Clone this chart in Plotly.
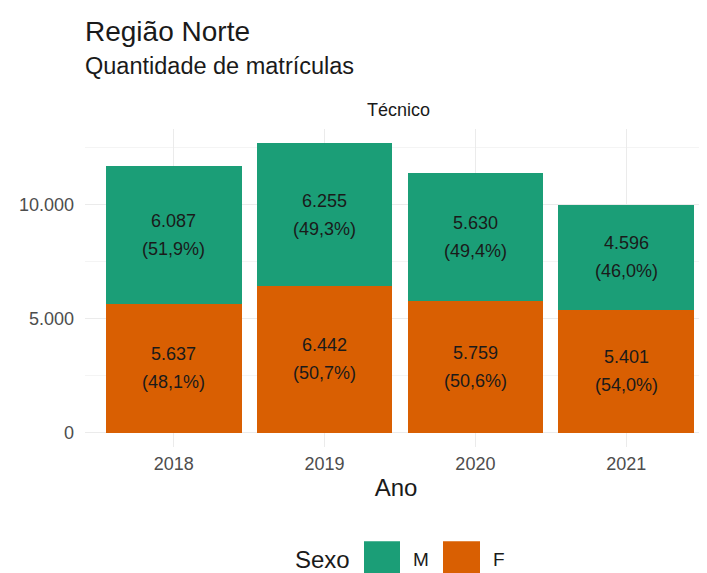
import plotly.graph_objects as go

anos = ["2018", "2019", "2020", "2021"]
masc = [6087, 6255, 5630, 4596]
fem = [5637, 6442, 5759, 5401]
masc_pct = ["51,9%", "49,3%", "49,4%", "46,0%"]
fem_pct = ["48,1%", "50,7%", "50,6%", "54,0%"]

COL_M = "#1B9E77"
COL_F = "#D95F02"
FONT = "Liberation Sans, Arial, sans-serif"
TXT = "#1a1a1a"
AXT = "#4D4D4D"


def fmt(v):
    return f"{v:,}".replace(",", ".")


fig = go.Figure()
fig.add_trace(go.Bar(x=anos, y=fem, name="F", showlegend=False,
                     marker=dict(color=COL_F, line=dict(width=0))))
fig.add_trace(go.Bar(x=anos, y=masc, name="M", showlegend=False,
                     marker=dict(color=COL_M, line=dict(width=0))))

annotations = []
# value labels centred in each stacked segment (two lines); x = category index
for i, (f, m, fp, mp) in enumerate(zip(fem, masc, fem_pct, masc_pct)):
    for val, pct, mid in ((f, fp, f / 2), (m, mp, f + m / 2)):
        annotations.append(dict(x=i, y=mid, xref="x", yref="y", text=fmt(val),
                                showarrow=False, yshift=14,
                                font=dict(size=18, color=TXT)))
        annotations.append(dict(x=i, y=mid, xref="x", yref="y", text=f"({pct})",
                                showarrow=False, yshift=-14,
                                font=dict(size=18, color=TXT)))

# panel geometry helpers (page pixels -> paper)
PL, PW, PB, PH = 85, 622, 447.5, 318.5


def px(x):
    return (x - PL) / PW


def py(y):
    return (PB - y) / PH


annotations += [
    dict(text="Região Norte", xref="paper", yref="paper", x=px(83), y=py(31),
         xanchor="left", yanchor="middle", showarrow=False,
         font=dict(size=28, color=TXT)),
    dict(text="Quantidade de matrículas", xref="paper", yref="paper", x=px(83), y=py(66),
         xanchor="left", yanchor="middle", showarrow=False,
         font=dict(size=23.5, color=TXT)),
    dict(text="Técnico", xref="paper", yref="paper", x=px(399), y=py(110),
         xanchor="center", yanchor="middle", showarrow=False,
         font=dict(size=18, color=TXT)),
    # legend
    dict(text="Sexo", xref="paper", yref="paper", x=px(293), y=py(560),
         xanchor="left", yanchor="middle", showarrow=False,
         font=dict(size=24, color=TXT)),
    dict(text="M", xref="paper", yref="paper", x=px(411), y=py(560),
         xanchor="left", yanchor="middle", showarrow=False,
         font=dict(size=19, color=TXT)),
    dict(text="F", xref="paper", yref="paper", x=px(491), y=py(560),
         xanchor="left", yanchor="middle", showarrow=False,
         font=dict(size=19, color=TXT)),
]

shapes = [
    dict(type="rect", xref="paper", yref="paper", x0=px(364), x1=px(400),
         y0=py(542), y1=py(600), fillcolor=COL_M, line=dict(width=0)),
    dict(type="rect", xref="paper", yref="paper", x0=px(443), x1=px(480),
         y0=py(542), y1=py(600), fillcolor=COL_F, line=dict(width=0)),
]

ymax = max(m + f for m, f in zip(masc, fem)) * 1.05
fig.update_layout(
    barmode="stack",
    bargap=0.1,
    width=699, height=565,
    margin=dict(l=77, r=0, t=121, b=125.5),
    plot_bgcolor="white", paper_bgcolor="white",
    separators=",.",
    font=dict(family=FONT, color=TXT),
    showlegend=False,
    xaxis=dict(
        type="category", range=[-0.589, 3.536],
        showgrid=True, gridcolor="#EBEBEB", gridwidth=1,
        showline=False, zeroline=False, ticks="",
        tickfont=dict(size=18, color=AXT), ticklabelstandoff=4,
        title=dict(text="Ano", font=dict(size=24, color=TXT), standoff=6),
    ),
    yaxis=dict(
        range=[-ymax / 1.05 * 0.05, ymax],
        tickvals=[0, 5000, 10000], tickformat=",d",
        showgrid=True, gridcolor="#EBEBEB", gridwidth=1,
        minor=dict(tickvals=[2500, 7500, 12500], showgrid=True,
                   gridcolor="#F4F4F4", gridwidth=0.6),
        zeroline=False, showline=False, ticks="",
        tickfont=dict(size=18, color=AXT), ticklabelstandoff=10,
    ),
    annotations=annotations,
    shapes=shapes,
)

fig.write_html("out.html")
